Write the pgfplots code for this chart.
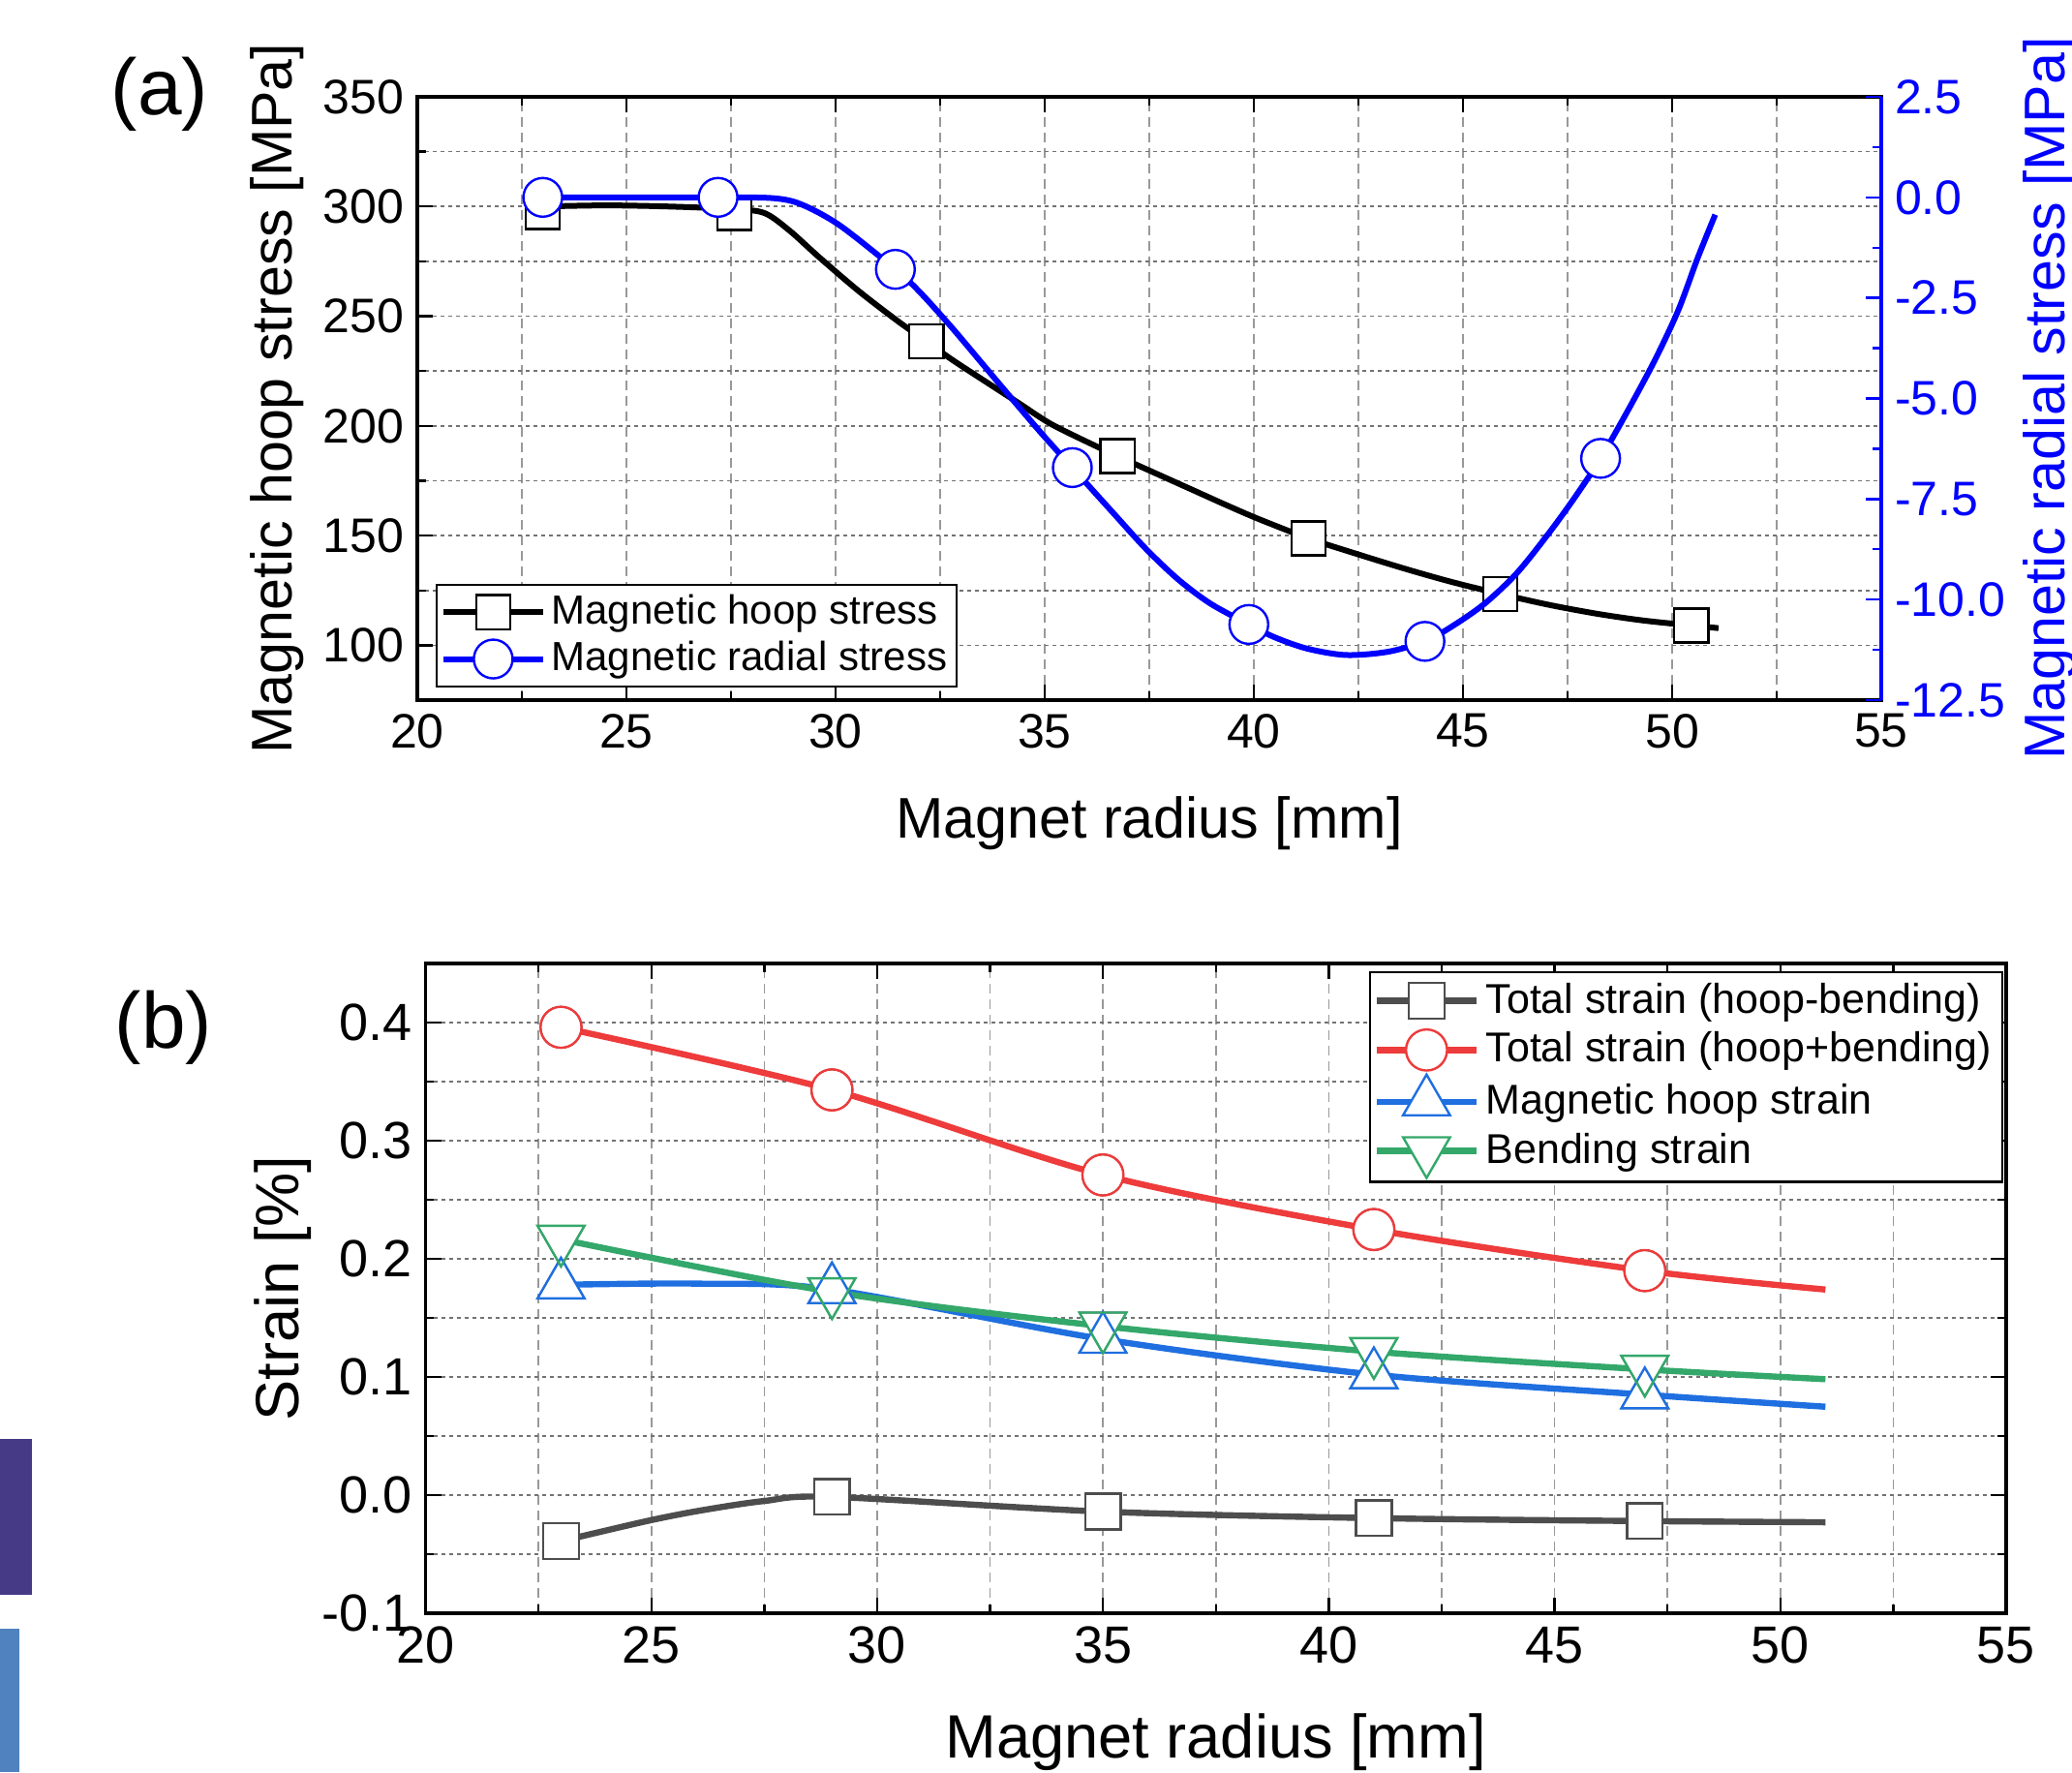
\documentclass[border=0pt]{standalone}
\usepackage{fontspec}
\setmainfont{Liberation Sans}
\usepackage{pgfplots}
\usepackage{pgfplotstable}
\pgfplotsset{compat=1.18}
\definecolor{mblue}{RGB}{0,0,255}
\definecolor{sgray}{RGB}{77,77,77}
\definecolor{sred}{RGB}{238,59,59}
\definecolor{sblue}{RGB}{31,111,224}
\definecolor{sgreen}{RGB}{51,168,106}
\definecolor{barpurple}{RGB}{70,58,134}
\definecolor{barblue}{RGB}{79,130,190}

% ---------- (a) data ----------
\pgfplotstableread{
x y
23 300
24.5 300.5
26 300
27.56 298.8
28.3 297
28.9 289
29.6 277
30.55 261.5
31.47 248
32.17 238.5
32.79 230.1
33.56 220.5
34.33 211.0
35.10 201.4
35.87 194.0
36.74 186.2
37.80 177.1
38.57 170.5
39.34 163.9
40.12 157.5
41.31 148.7
42.43 141.8
43.59 135.0
44.7 129.0
45.89 123.4
47.06 118.4
48.22 114.3
49.3 111.3
50.46 109.0
51.11 107.8
}\hoopline
\pgfplotstableread{
x y
23 297.5
27.58 297
32.17 238.5
36.74 186.2
41.31 148.7
45.89 123.4
50.46 109.0
}\hoopmarks
\pgfplotstableread{
x y
23 0
25 0
27.19 0
28.5 -0.02
29.17 -0.17
30.09 -0.69
31.43 -1.79
32.01 -2.35
32.79 -3.25
33.56 -4.2
34.25 -5.05
34.95 -5.9
35.66 -6.72
36.64 -7.85
37.42 -8.74
38.19 -9.50
38.96 -10.10
39.88 -10.62
40.5 -10.94
41.27 -11.22
42.2 -11.38
43.2 -11.30
44.09 -11.04
44.75 -10.66
45.52 -10.10
46.29 -9.34
47.06 -8.34
47.68 -7.45
48.29 -6.49
48.99 -5.21
49.61 -4.0
50.15 -2.80
50.61 -1.51
51.03 -0.43
}\radline
\pgfplotstableread{
x y
23 0
27.19 0
31.43 -1.79
35.66 -6.72
39.88 -10.62
44.09 -11.04
48.29 -6.49
}\radmarks

% ---------- (b) data ----------
\pgfplotstableread{
x y
23 -0.039
24.9 -0.022
26.1 -0.013
27.5 -0.005
29 -0.0015
35 -0.014
41 -0.0195
47 -0.022
51 -0.023
}\grayline
\pgfplotstableread{
x y
23 -0.039
29 -0.0015
35 -0.014
41 -0.0195
47 -0.022
}\graymarks
\pgfplotstableread{
x y
23 0.396
29 0.343
35 0.271
41 0.2248
47 0.190
51 0.174
}\redline
\pgfplotstableread{
x y
23 0.396
29 0.343
35 0.271
41 0.2248
47 0.190
}\redmarks
\pgfplotstableread{
x y
23 0.178
26 0.179
29 0.174
35 0.132
41 0.102
47 0.085
51 0.0748
}\blueline
\pgfplotstableread{
x y
23 0.178
29 0.174
35 0.132
41 0.102
47 0.085
}\bluemarks
\pgfplotstableread{
x y
23 0.2165
29 0.172
35 0.143
41 0.1214
47 0.1064
51 0.0981
}\greenline
\pgfplotstableread{
x y
23 0.2165
29 0.172
35 0.143
41 0.1214
47 0.1064
}\greenmarks

\pgfplotsset{
  common/.style={
    scale only axis,
    xmin=20, xmax=55,
    tick align=inside,
    major tick length=4pt, minor tick length=2.2pt,
    axis line style={line width=0.8pt},
    every tick/.style={black, line width=0.6pt},
    /pgf/number format/assume math mode=true,
    x grid style={dash pattern=on 2.5pt off 1.5pt, black!40, line width=0.4pt},
    y grid style={dash pattern=on 1pt off 1pt, black!55, line width=0.4pt},
    legend image code/.code={\draw[mark repeat=2,mark phase=2,#1] plot coordinates {(0pt,0pt)(12.8pt,0pt)(25.6pt,0pt)};},
    legend cell align=left,
  },
}

\begin{document}
\begin{tikzpicture}
\useasboundingbox (0,0) rectangle (535pt,457.5pt);
\fill[barpurple] (0pt,45.75pt) rectangle (8.2pt,86.1pt);
\fill[barblue] (0pt,0pt) rectangle (5.1pt,37pt);

\node[font=\fontsize{20.5}{24}\selectfont] at (41.25pt,433.25pt) {(a)};
\node[font=\fontsize{20.5}{24}\selectfont] at (42.25pt,192.25pt) {(b)};

% ================= (a) left axis =================
\begin{axis}[common,
  at={(107.75pt,276.75pt)}, anchor=south west,
  width=378pt, height=155.75pt,
  ymin=75, ymax=350,
  xtick={20,25,...,55}, ytick={100,150,...,350},
  minor x tick num=1, minor y tick num=1,
  xtick pos=both, ytick pos=left,
  grid=both,
  tick label style={font=\fontsize{12.5}{15}\selectfont},
  label style={font=\fontsize{14.8}{18}\selectfont},
  xlabel={Magnet radius [mm]},
  ylabel={Magnetic hoop stress [MPa]},
  xlabel style={at={(axis description cs:0.5,-0.2039)}, anchor=center},
  ylabel style={at={(axis description cs:-0.0959,0.5)}, anchor=center},
]
\addplot[black, line width=1.5pt, smooth, no marks, forget plot] table {\hoopline};
\addplot[only marks, mark=square*, mark size=4.4pt, mark options={draw=black, fill=white, line width=0.6pt}, forget plot] table {\hoopmarks};
\end{axis}

% ================= (a) right axis =================
\begin{axis}[common,
  at={(107.75pt,276.75pt)}, anchor=south west,
  width=378pt, height=155.75pt,
  ymin=-12.5, ymax=2.5,
  axis x line=none, axis y line*=right,
  ytick={-12.5,-10,...,2.5}, minor y tick num=1,
  y axis line style={mblue, line width=0.8pt},
  every tick/.style={mblue, line width=0.6pt},
  yticklabel style={text=mblue, font=\fontsize{12.5}{15}\selectfont,
    /pgf/number format/fixed, /pgf/number format/fixed zerofill, /pgf/number format/precision=1},
  ylabel={Magnetic radial stress [MPa]},
  ylabel style={text=mblue, font=\fontsize{14.8}{18}\selectfont, at={(axis description cs:1.1151,0.5)}, anchor=center},
  legend style={at={(0,0)}, anchor=south west, xshift=4.75pt, yshift=3.25pt,
    font=\fontsize{10.5}{12}\selectfont, draw=black, line width=0.6pt,
    inner sep=1pt, row sep=0pt, nodes={inner sep=1.5pt}},
]
\addlegendimage{black, line width=1.5pt, mark=square*, mark size=4.4pt, mark options={draw=black, fill=white, line width=0.6pt}}
\addlegendentry{Magnetic hoop stress}
\addplot[mblue, line width=1.5pt, smooth, no marks, forget plot] table {\radline};
\addplot[only marks, mark=*, mark size=5pt, mark options={draw=mblue, fill=white, line width=0.6pt}, forget plot] table {\radmarks};
\addlegendimage{mblue, line width=1.5pt, mark=*, mark size=5pt, mark options={draw=mblue, fill=white, line width=0.6pt}}
\addlegendentry{Magnetic radial stress}
\end{axis}

% ================= (b) =================
\begin{axis}[common,
  at={(109.875pt,41pt)}, anchor=south west,
  width=408.1pt, height=167.75pt,
  ymin=-0.1, ymax=0.45,
  xtick={20,25,...,55}, ytick={-0.1,0,0.1,0.2,0.3,0.4},
  minor x tick num=1, minor y tick num=1,
  xtick pos=both, ytick pos=both,
  grid=both,
  tick label style={font=\fontsize{13.5}{16}\selectfont},
  yticklabel style={/pgf/number format/fixed, /pgf/number format/fixed zerofill, /pgf/number format/precision=1},
  label style={font=\fontsize{15.8}{19}\selectfont},
  xlabel={Magnet radius [mm]},
  ylabel={Strain [\%]},
  xlabel style={at={(axis description cs:0.5,-0.1982)}, anchor=center},
  ylabel style={at={(axis description cs:-0.0904,0.5)}, anchor=center},
  legend style={at={(1,1)}, anchor=north east, xshift=-0.75pt, yshift=-2pt,
    font=\fontsize{10.75}{12}\selectfont, draw=black, line width=0.6pt,
    inner sep=1pt, row sep=0pt, nodes={inner sep=1.7pt}},
]
% lines
\addplot[sgray, line width=1.6pt, smooth, no marks, forget plot] table {\grayline};
\addplot[sred, line width=1.6pt, smooth, no marks, forget plot] table {\redline};
\addplot[sblue, line width=1.6pt, smooth, no marks, forget plot] table {\blueline};
\addplot[sgreen, line width=1.6pt, smooth, no marks, forget plot] table {\greenline};
% marker fills (gaps in the lines)
\addplot[only marks, mark=square*, mark size=4.6pt, mark options={draw=none, fill=white}, forget plot] table {\graymarks};
\addplot[only marks, mark=*, mark size=5.3pt, mark options={draw=none, fill=white}, forget plot] table {\redmarks};
\addplot[only marks, mark=triangle*, mark size=7pt, mark options={draw=none, fill=white}, forget plot] table {\bluemarks};
\addplot[only marks, mark=triangle*, mark size=7pt, mark options={draw=none, fill=white, rotate=180}, forget plot] table {\greenmarks};
% marker outlines
\addplot[only marks, mark=square, mark size=4.6pt, mark options={draw=sgray, line width=0.6pt}, forget plot] table {\graymarks};
\addplot[only marks, mark=o, mark size=5.3pt, mark options={draw=sred, line width=0.6pt}, forget plot] table {\redmarks};
\addplot[only marks, mark=triangle, mark size=7pt, mark options={draw=sblue, line width=0.6pt}, forget plot] table {\bluemarks};
\addplot[only marks, mark=triangle, mark size=7pt, mark options={draw=sgreen, line width=0.6pt, rotate=180}, forget plot] table {\greenmarks};
% legend
\addlegendimage{sgray, line width=1.6pt, mark=square*, mark size=4.6pt, mark options={draw=sgray, fill=white, line width=0.6pt}}
\addlegendentry{Total strain (hoop-bending)}
\addlegendimage{sred, line width=1.6pt, mark=*, mark size=5.3pt, mark options={draw=sred, fill=white, line width=0.6pt}}
\addlegendentry{Total strain (hoop+bending)}
\addlegendimage{sblue, line width=1.6pt, mark=triangle*, mark size=7pt, mark options={draw=sblue, fill=white, line width=0.6pt}}
\addlegendentry{Magnetic hoop strain}
\addlegendimage{sgreen, line width=1.6pt, mark=triangle*, mark size=7pt, mark options={draw=sgreen, fill=white, line width=0.6pt, rotate=180}}
\addlegendentry{Bending strain}
\end{axis}
\end{tikzpicture}
\end{document}
